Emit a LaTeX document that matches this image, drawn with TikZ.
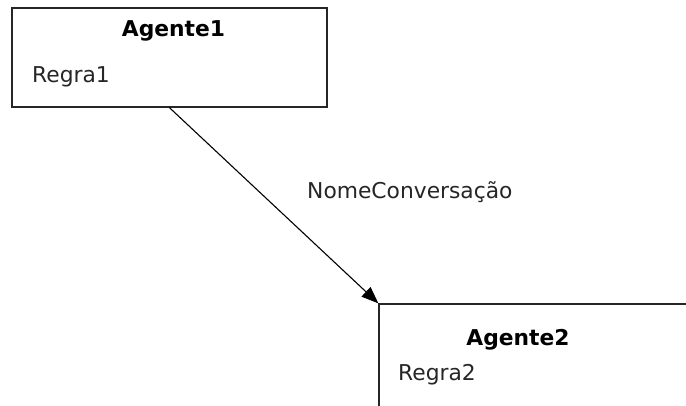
\documentclass[tikz,border=0pt]{standalone}
\usepackage{fontspec}
\setmainfont{DejaVu Sans}
\usetikzlibrary{arrows.meta,calc}
\begin{document}
\begin{tikzpicture}[x=1pt,y=-1pt,
  agent/.style={draw=black!85,line width=1.2pt,fill=white,rectangle,inner sep=0pt},
  txt/.style={inner sep=0pt,font=\fontsize{21.8}{25}\selectfont,text=black!85},
  ttl/.style={inner sep=0pt,font=\fontsize{21.8}{25}\selectfont\bfseries,text=black},
  conn/.style={draw=black,line width=1.1pt,-{Triangle[length=17pt,width=13pt]}}]
\clip (0,0) rectangle (686,405);
\fill[white] (0,0) rectangle (686,405);
\node[agent,minimum width=315pt,minimum height=99pt] (a1) at (169.5,57.5) {};
\node[ttl,anchor=base] (t1) at (173.5,36) {Agente1};
\node[txt,anchor=base west] (r1) at (32,82) {Regra1};
\node[agent,minimum width=330pt,minimum height=130pt] (a2) at (544,369) {};
\node[ttl,anchor=base] (t2) at (518,345) {Agente2};
\node[txt,anchor=base west] (r2) at (398,380) {Regra2};
\coordinate (s) at ($(a1.south west)+(158,0)$);
\draw[conn] (s) -- (a2.north west);
\node[txt,anchor=base west] (lab) at (307,198) {NomeConversação};
\end{tikzpicture}
\end{document}
